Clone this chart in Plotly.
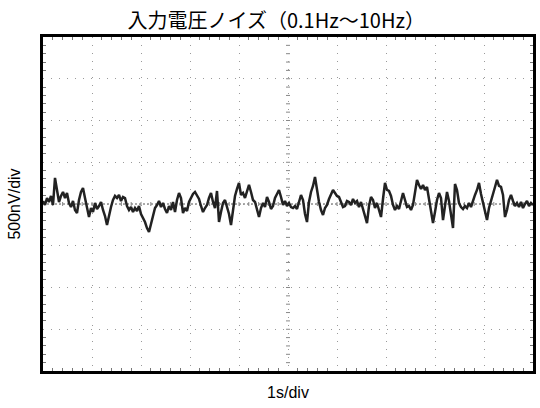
import numpy as np
import plotly.graph_objects as go

# ---- data ----
title_text = "入力電圧ノイズ（0.1Hz～10Hz）"
x_label = "1s/div"
y_label = "500nV/div"

# noise voltage samples in nV (500 nV/div), spanning 10 s (1 s/div)
noise_nv = [
    36, -12, 72, 24, 96, -12,
    312, 168, 24, 96, 144, 72, 132, 12, -36, 36, -72, -108, 48, 144, 192, 72, -24, -156,
    -48, -96, 12, -60, -24, 24, -72, -144, -252, -120, -36, 48, 96, 72, 108, 36, 84, 72,
    -24, -72, -36, -96, -48, -84, -24, -120, -168, -216, -288, -336, -240, -144, -48, -12,
    36, -36, 12, -60, -108, -24, -72, 24, -96, 48, 132, 72, -108, -48, -84, 24, 72, 120,
    144, 108, 60, -24, -96, -48, -12,
    72, 132, 24, -48, 156, -216, -96, 12, 48, -36, -120, -252, -72, 96, 180, 252, 108, 132,
    72, 156, 228, 144, 48, 24, -72, -156, -48, 12, -36, 84, 24, -60, -24, 72, 120, 168, 84,
    -12, 36, -24, 12,
    -36, -48, -24, -60, 12, 108, 48, -120, -216, 24, 144, 216, 324, 168, 24, -72, -132, -48,
    -12, 60, 108, 168, 132, 96, 84, 24, -36, -24, 36, 24, -12, 60, 12, 36, -36, 24, -60,
    -144, -228, -24, 84,
    48, -48, 12, -72, -156, 60, 252, 168, 156, 96, -12, -72, -24, -60, 36, 132, 48, -36,
    -24, -72, -12, 120, 288, 228, 180, 228, 168, 204, 48, -96, -228, -96, 48, 132, 72, -192,
    -48, 144, 36, -120, -288,
    240, 168, 12, -36, -60, -24, -48, 12, -36, 48, 108, 168, 252, 120, 12, -72, -192, -48,
    48, 120, 204, 288, 216, 204, 108, -156, -72, 48, 108, 36, -24, 12, -36, 24, -48, 0, 36,
    -24, 12, -12,
]
time_s = np.linspace(0, 10, len(noise_nv))

x_range = [0, 10]
y_range = [-2000, 2000]
x_div = 1
y_div = 500

fig = go.Figure()
fig.add_trace(go.Scatter(
    x=time_s, y=noise_nv, mode="lines",
    line=dict(color="#222222", width=2.5),
    showlegend=False, hoverinfo="skip",
))

# center cross line and small scale ticks on it
shapes = [dict(type="line", xref="paper", x0=0, x1=1, yref="y", y0=0, y1=0,
               line=dict(color="#555", width=1, dash="2px,2px"), layer="below")]
for k in range(1, 50):
    xv = x_range[0] + k * x_div / 5
    shapes.append(dict(type="line", xref="x", x0=xv, x1=xv, yref="y", ysizemode="pixel",
                       yanchor=0, y0=-2, y1=2, line=dict(color="#888", width=1), layer="below"))
for k in range(1, 40):
    yv = y_range[0] + k * y_div / 5
    shapes.append(dict(type="line", yref="y", y0=yv, y1=yv, xref="x", xsizemode="pixel",
                       xanchor=5, x0=-2, x1=2, line=dict(color="#888", width=1), layer="below"))

axis_common = dict(
    showgrid=True, gridcolor="#9a9a9a", gridwidth=1, griddash="1px,7px",
    showticklabels=False, zeroline=False, showline=True, mirror="allticks",
    linewidth=3, linecolor="black", ticks="", automargin=False,
)
fig.update_xaxes(range=x_range, dtick=x_div, tick0=0,
                 minor=dict(ticks="inside", dtick=x_div / 5, ticklen=3, tickcolor="#777", showgrid=False),
                 title=dict(text=x_label, font=dict(size=16, color="black"), standoff=14),
                 **axis_common)
fig.update_yaxes(range=y_range, dtick=y_div, tick0=0,
                 minor=dict(ticks="inside", dtick=y_div / 5, ticklen=3, tickcolor="#777", showgrid=False),
                 title=dict(text=y_label, font=dict(size=16, color="black"), standoff=16),
                 **axis_common)

fig.update_layout(
    width=540, height=408,
    margin=dict(l=43, r=7, t=37, b=37, autoexpand=False),
    paper_bgcolor="white", plot_bgcolor="white",
    font=dict(family="Liberation Sans, Arial, sans-serif", color="black"),
    title=dict(text=title_text, x=0.476, xref="paper", xanchor="center", y=0.948, yanchor="middle",
               automargin=False,
               font=dict(family="Noto Sans CJK JP", size=20, color="black")),
    shapes=shapes,
)

fig.write_html("out.html", config={"displayModeBar": False, "staticPlot": True},
               post_script="document.body.style.margin='0';")
